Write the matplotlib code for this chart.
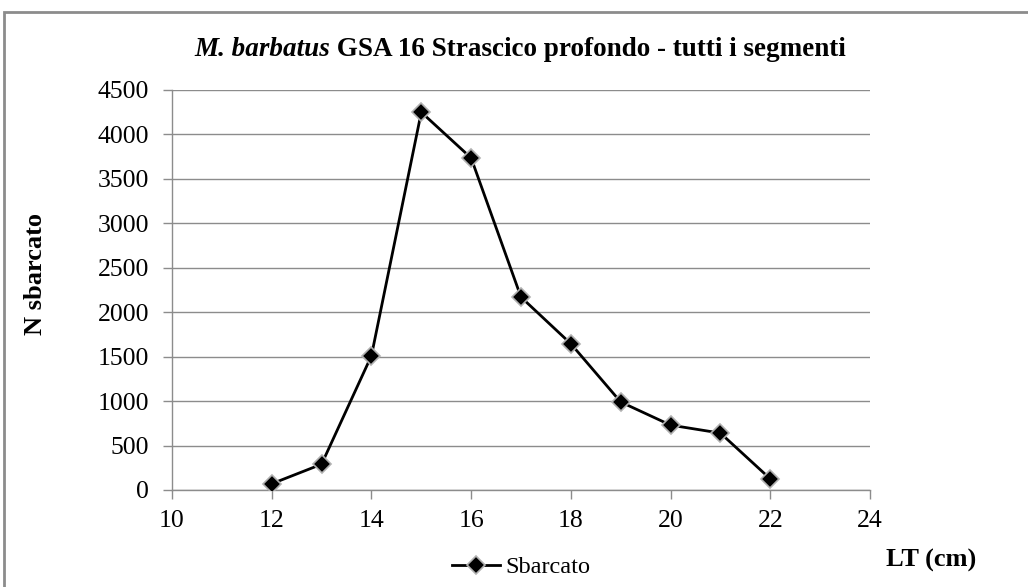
import matplotlib
matplotlib.use("Agg")
import matplotlib.pyplot as plt
from matplotlib.patches import Rectangle

lt_cm = [12, 13, 14, 15, 16, 17, 18, 19, 20, 21, 22]
sbarcato = [70, 290, 1510, 4250, 3735, 2170, 1645, 990, 730, 640, 125]
x_ticks = [10, 12, 14, 16, 18, 20, 22, 24]
y_ticks = [0, 500, 1000, 1500, 2000, 2500, 3000, 3500, 4000, 4500]

plt.rcParams['font.family'] = ['Liberation Serif', 'DejaVu Serif']

W, H = 1028, 587
fig = plt.figure(figsize=(W / 100, H / 100), dpi=100)
fig.patch.set_facecolor('white')

# outer chart frame
fig.patches.append(Rectangle((4 / W, -0.05), 1.2, 1 - 12 / H + 0.05,
                             transform=fig.transFigure, fill=False,
                             edgecolor='#8c8c8c', linewidth=2))

ax = fig.add_axes([172 / W, 1 - 490 / H, (870 - 172) / W, (490 - 90) / H])
ax.plot(lt_cm, sbarcato, color='black', linewidth=2, marker='D',
        markersize=9, markerfacecolor='black', markeredgecolor='#b0b0b0',
        markeredgewidth=1.2, label='Sbarcato', zorder=3)

ax.set_xlim(10, 24)
ax.set_ylim(0, 4500)
ax.set_xticks(x_ticks)
ax.set_yticks(y_ticks)
ax.tick_params(axis='both', labelsize=18.5, color='#8c8c8c', length=6.5, width=1)
ax.tick_params(axis='x', pad=8)
ax.tick_params(axis='y', pad=10)
ax.yaxis.grid(True, color='#8c8c8c', linewidth=1)
ax.set_axisbelow(True)
for s in ['top', 'right']:
    ax.spines[s].set_visible(False)
for s in ['left', 'bottom']:
    ax.spines[s].set_color('#8c8c8c')
    ax.spines[s].set_linewidth(1)

fig.text(35 / W, 1 - 274 / H, 'N sbarcato', rotation=90, ha='center',
         va='center', fontsize=19, fontweight='bold')
fig.text(931 / W, 1 - 560 / H, 'LT (cm)', ha='center', va='center',
         fontsize=19, fontweight='bold')

# title: italic + regular parts
t1 = fig.text(0, 1 - 50 / H, 'M. barbatus', fontsize=19.5, fontweight='bold',
              fontstyle='italic', va='center', ha='left')
t2 = fig.text(0, 1 - 50 / H, ' GSA 16 Strascico profondo - tutti i segmenti',
              fontsize=19.5, fontweight='bold', va='center', ha='left')
fig.canvas.draw()
r = fig.canvas.get_renderer()
w1 = t1.get_window_extent(r).width
w2 = t2.get_window_extent(r).width
x0 = 520 - (w1 + w2) / 2
t1.set_x(x0 / W)
t2.set_x((x0 + w1) / W)

leg = fig.legend(*ax.get_legend_handles_labels(), loc='center',
                 bbox_to_anchor=(521 / W, 1 - 567 / H), frameon=False,
                 fontsize=17.5, handlelength=2.0, handletextpad=0.2)

fig.savefig('out.png', dpi=100)
